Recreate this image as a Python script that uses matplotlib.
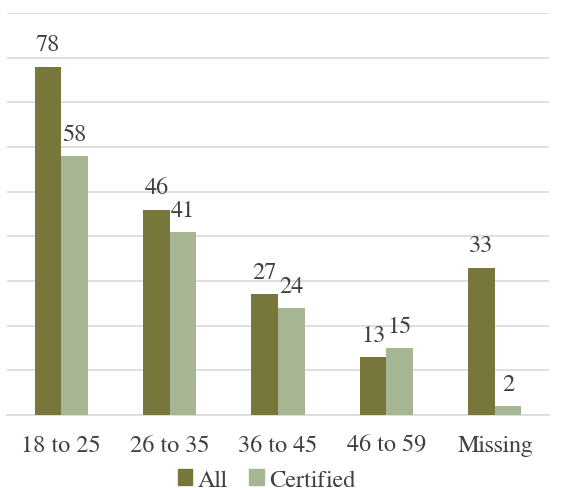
import numpy as np
import matplotlib.pyplot as plt
from matplotlib.patches import Patch

# data
groups = ['18 to 25', '26 to 35', '36 to 45', '46 to 59', 'Missing']
all_vals = [78, 46, 27, 13, 33]
cert_vals = [58, 41, 24, 15, 2]

c_all = '#77773C'
c_cert = '#A6B693'
txt = '#404040'

plt.rcParams['font.family'] = ['FreeSerif', 'Liberation Serif', 'DejaVu Serif']
fs = 17.5

fig = plt.figure(figsize=(5.61, 4.89), dpi=100)
ax = fig.add_axes([7/561, (489-416)/489, (549-7)/561, (416-14)/489])

x = np.arange(len(groups))
w = 0.245
b1 = ax.bar(x - w/2, all_vals, w, color=c_all, label='All', zorder=3)
b2 = ax.bar(x + w/2, cert_vals, w, color=c_cert, label='Certified', zorder=3)

for bars in (b1, b2):
    ax.bar_label(bars, padding=8, fontsize=fs, color=txt)

ax.set_ylim(0, 90)
ax.set_xlim(-0.5, len(groups) - 0.5)
ax.set_yticks(np.arange(0, 91, 10))
ax.yaxis.grid(True, color='#D9D9D9', linewidth=1.2, zorder=0)
ax.tick_params(axis='y', left=False, labelleft=False)
ax.tick_params(axis='x', length=0, pad=14, labelsize=fs, labelcolor=txt)
ax.set_xticks(x)
ax.set_xticklabels(groups)
for s in ['top', 'right', 'left']:
    ax.spines[s].set_visible(False)
ax.spines['bottom'].set_color('#D9D9D9')
ax.spines['bottom'].set_linewidth(1.2)

handles = [Patch(color=c_all, label='All'), Patch(color=c_cert, label='Certified')]
leg = fig.legend(handles=handles, loc='lower center', bbox_to_anchor=(0.475, -0.03), ncol=2,
                 frameon=False, fontsize=fs, labelcolor=txt, borderpad=0,
                 handlelength=0.6, handleheight=0.6, handletextpad=0.2, columnspacing=0.9)
for t in leg.get_texts():
    t.set_fontfamily(['FreeSerif', 'Liberation Serif'])

plt.savefig('out.png', dpi=100)
